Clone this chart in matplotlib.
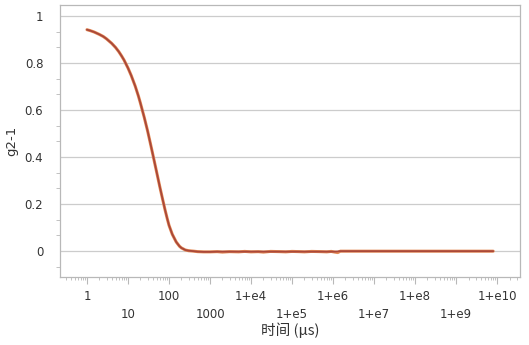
import matplotlib
matplotlib.use("Agg")
import matplotlib.pyplot as plt
from matplotlib.ticker import FixedLocator, LogLocator, NullFormatter
from matplotlib.transforms import ScaledTranslation

time_decay = [1, 1.2, 1.5, 2, 2.5, 3, 4, 5, 6, 7, 8, 10, 12, 15, 18, 20, 25,
              30, 35, 40, 45, 50, 60, 70, 80, 90, 100, 120, 150, 180, 200,
              250, 300, 400, 500, 700, 1000]
g2_decay = [0.942, 0.938, 0.932, 0.922, 0.913, 0.903, 0.884, 0.866, 0.848,
            0.830, 0.813, 0.779, 0.747, 0.702, 0.659, 0.631, 0.568, 0.512,
            0.460, 0.414, 0.373, 0.336, 0.272, 0.220, 0.176, 0.140, 0.110,
            0.072, 0.039, 0.021, 0.014, 0.005, 0.002, 0.0, -0.002, -0.003,
            -0.003]

# baseline: noisy measured values up to ~2e6, then flat
time_tail = [1500, 2000, 3000, 5000, 7000, 1e4, 1.5e4, 2e4, 3e4, 5e4, 7e4,
             1e5, 1.5e5, 2e5, 3e5, 5e5, 7e5, 9e5, 1.1e6, 1.3e6, 1.5e6, 2e6,
             1e7, 1e8, 1e9, 8e9]
g2_tail_data = [-0.002, -0.004, -0.002, -0.003, -0.001, -0.003, -0.002,
                -0.004, -0.001, -0.002, -0.003, -0.001, -0.002, -0.003,
                -0.001, -0.002, -0.003, -0.001, -0.004, -0.006, 0.0, 0.0,
                0.0, 0.0, 0.0, 0.0]
g2_tail_fit = [-0.002, -0.002, -0.002, -0.002, -0.002, -0.002, -0.002,
               -0.002, -0.002, -0.002, -0.002, -0.002, -0.002, -0.002,
               -0.002, -0.002, -0.002, -0.002, -0.002, -0.001, 0.0, 0.0,
               0.0, 0.0, 0.0, 0.0]

decades = [10.0 ** k for k in range(11)]
decade_labels = ["1", "10", "100", "1000"] + [f"1+e{k}" for k in range(4, 11)]
y_ticks = [0, 0.2, 0.4, 0.6, 0.8, 1]
y_labels = ["0", "0.2", "0.4", "0.6", "0.8", "1"]

plt.rcParams["font.family"] = ["DejaVu Sans"]
fig = plt.figure(figsize=(5.29, 3.45), dpi=100)
ax = fig.add_axes([0.1134, 0.197, 0.9830 - 0.1134, 0.9855 - 0.197])

ax.plot(time_decay + time_tail, g2_decay + g2_tail_data, color="#e58a55",
        linewidth=2.2, solid_capstyle="round", solid_joinstyle="round")
ax.plot(time_decay + time_tail, g2_decay + g2_tail_fit, color="#a9483a",
        linewidth=1.3, solid_capstyle="round", solid_joinstyle="round")

ax.set_xscale("log")
ax.set_xlim(0.22, 3.6e10)
ax.set_ylim(-0.11, 1.047)

text_color = "#333333"
frame_color = "#b8b8b8"
for side in ["left", "right", "top", "bottom"]:
    ax.spines[side].set_color(frame_color)
    ax.spines[side].set_linewidth(0.9)

ax.set_yticks(y_ticks)
ax.set_yticklabels(y_labels)
ax.yaxis.set_minor_locator(FixedLocator([-0.2 / 3 + k * 0.2 / 3 for k in range(17)]))
ax.grid(True, axis="y", which="major", color="#cccccc", linewidth=0.9)
ax.tick_params(axis="y", which="major", length=0, pad=12, labelsize=8.5,
               labelcolor=text_color)
ax.tick_params(axis="y", which="minor", length=3, color=frame_color)

ax.xaxis.set_major_locator(FixedLocator(decades))
ax.set_xticklabels(decade_labels)
ax.xaxis.set_minor_locator(LogLocator(base=10, subs=range(2, 10), numticks=40))
ax.xaxis.set_minor_formatter(NullFormatter())
ax.tick_params(axis="x", which="major", length=5, color=frame_color, pad=4,
               labelsize=8.5, labelcolor=text_color)
ax.tick_params(axis="x", which="minor", length=2.5, color=frame_color)

# stagger odd decades onto a second row
shift = ScaledTranslation(0, -18 / 100, fig.dpi_scale_trans)
for i, label in enumerate(ax.get_xticklabels()):
    if i % 2 == 1:
        label.set_transform(label.get_transform() + shift)

ax.set_ylabel("g2-1", fontsize=9.5, color=text_color, labelpad=5)
ax.set_xlabel("时间 (μs)", fontsize=10.5, color=text_color,
              family=["Noto Sans CJK SC", "DejaVu Sans"])
ax.xaxis.set_label_coords(0.5, -0.168)

fig.savefig("out.png", dpi=100)
